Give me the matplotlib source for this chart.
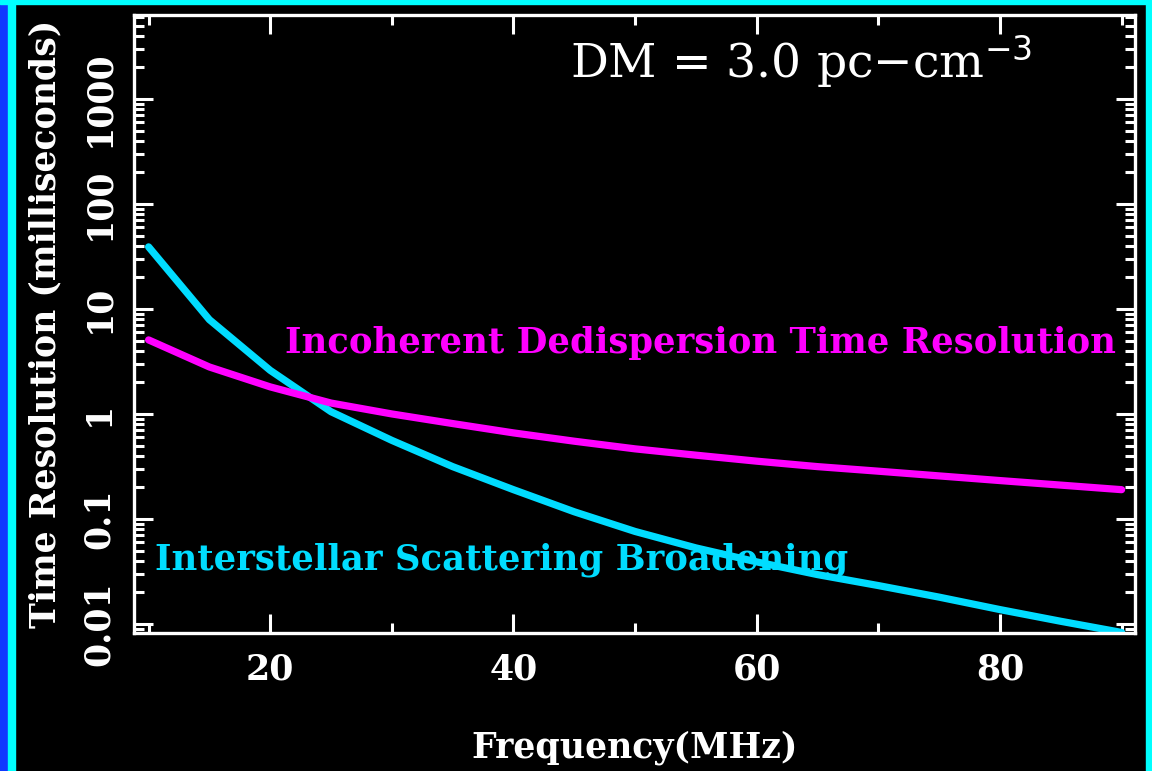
import matplotlib
matplotlib.use("Agg")
import matplotlib.pyplot as plt
from matplotlib.patches import Rectangle
from matplotlib.ticker import FixedLocator, LogLocator, NullFormatter

# Frequency grid (MHz)
freq = [10, 15, 20, 25, 30, 35, 40, 45, 50, 55, 60, 65, 70, 75, 80, 85, 90]

# Scattering broadening time (ms)
scatter_ms = [39, 7.9, 2.6, 1.05, 0.56, 0.315, 0.19, 0.117, 0.076,
              0.053, 0.039, 0.0295, 0.0232, 0.018, 0.0137, 0.0106, 0.0083]

# Incoherent dedispersion smearing (ms)
dedisp_ms = [5.07, 2.8, 1.81, 1.27, 1.0, 0.81, 0.66, 0.55, 0.465,
             0.405, 0.355, 0.315, 0.285, 0.257, 0.232, 0.21, 0.19]

ytick_vals = [0.01, 0.1, 1, 10, 100, 1000]
ytick_labels = ["0.01", "0.1", "1", "10", "100", "1000"]
xtick_vals = [20, 40, 60, 80]

CYAN = "#00dcff"
MAGENTA = "#ff00ff"
serif = ["DejaVu Serif"]

fig = plt.figure(figsize=(11.52, 7.71), dpi=100, facecolor="black")
ax = fig.add_axes([134 / 1152, 1 - 633 / 771, 1001 / 1152, 618 / 771])
ax.set_facecolor("black")

ax.plot(freq, scatter_ms, color=CYAN, lw=5.2, solid_capstyle="round")
ax.plot(freq, dedisp_ms, color=MAGENTA, lw=5.2, solid_capstyle="round")

ax.set_yscale("log")
ax.set_xlim(8.8, 91.1)
ax.set_ylim(0.0082, 6300)

for s in ax.spines.values():
    s.set_color("white")
    s.set_linewidth(2.4)

ax.xaxis.set_major_locator(FixedLocator(xtick_vals))
ax.xaxis.set_minor_locator(FixedLocator([10, 30, 50, 70, 90]))
ax.yaxis.set_major_locator(FixedLocator(ytick_vals))
ax.yaxis.set_minor_locator(LogLocator(base=10, subs=range(2, 10)))
ax.yaxis.set_minor_formatter(NullFormatter())
ax.set_xticklabels([str(v) for v in xtick_vals])
ax.set_yticklabels(ytick_labels, rotation=90, va="center")

ax.tick_params(which="both", direction="in", colors="white", top=True, right=True,
               width=2.2)
ax.tick_params(which="major", length=13.5, labelsize=25)
ax.tick_params(axis="x", which="major", pad=14)
ax.tick_params(axis="y", which="major", pad=13)
ax.tick_params(which="minor", length=7)
for lab in ax.get_xticklabels() + ax.get_yticklabels():
    lab.set_family(serif)
    lab.set_fontweight("bold")

ax.set_xlabel("Frequency(MHz)", color="white", fontsize=25, fontweight="bold",
              family=serif, labelpad=32)
ax.set_ylabel("Time Resolution (milliseconds)", color="white", fontsize=25,
              fontweight="bold", family=serif, labelpad=14)

ax.text(0.436, 0.924, "DM = 3.0 pc\u2212cm$^{-3}$", transform=ax.transAxes,
        color="white", fontsize=34, family=serif, ha="left", va="center")
ax.text(0.151, 0.469, "Incoherent Dedispersion Time Resolution", transform=ax.transAxes,
        color=MAGENTA, fontsize=25.5, fontweight="bold", family=serif,
        ha="left", va="center")
ax.text(0.021, 0.118, "Interstellar Scattering Broadening", transform=ax.transAxes,
        color=CYAN, fontsize=25.5, fontweight="bold", family=serif,
        ha="left", va="center")

# frame strips round the figure
W, H = 1152, 771
fig.patches.append(Rectangle((0, 0), 8 / W, 1, transform=fig.transFigure,
                             color="#1038ff", zorder=5))
fig.patches.append(Rectangle((8 / W, 0), 7 / W, 1, transform=fig.transFigure,
                             color="#00ffff", zorder=5))
fig.patches.append(Rectangle((0, 1 - 4 / H), 1, 4 / H, transform=fig.transFigure,
                             color="#00ffff", zorder=5))
fig.patches.append(Rectangle((1 - 6 / W, 0), 6 / W, 1, transform=fig.transFigure,
                             color="#00ffff", zorder=5))

fig.savefig("out.png", dpi=100, facecolor="black")
